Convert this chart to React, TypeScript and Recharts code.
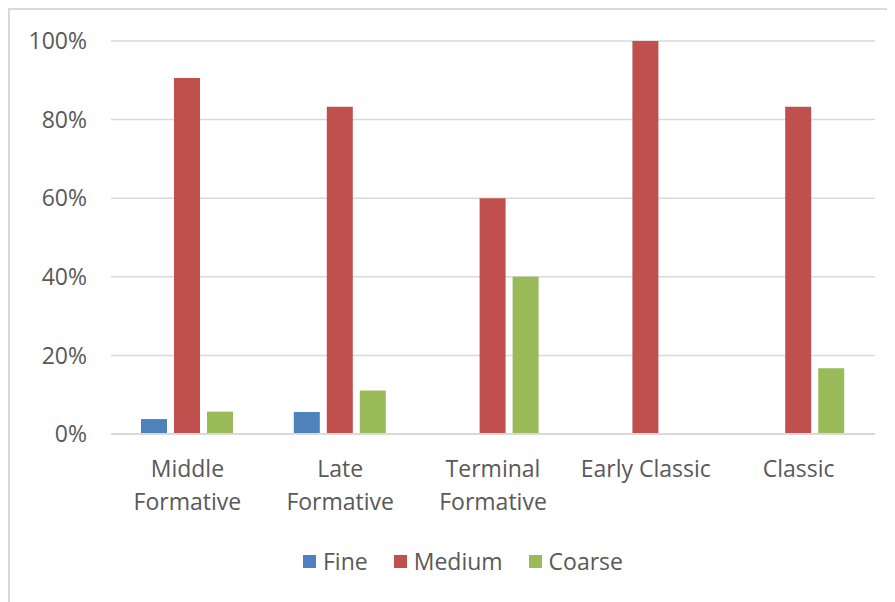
import React from "react";
import { BarChart, Bar, XAxis, YAxis, CartesianGrid, Legend } from "recharts";

const categories = ["Middle Formative", "Late Formative", "Terminal Formative", "Early Classic", "Classic"];
const tickLines = [["Middle", "Formative"], ["Late", "Formative"], ["Terminal", "Formative"], ["Early Classic"], ["Classic"]];
const fine = [3.8, 5.6, 0, 0, 0];
const medium = [90.6, 83.3, 60, 100, 83.3];
const coarse = [5.7, 11.1, 40, 0, 16.7];
const yTicks = [0, 20, 40, 60, 80, 100];

const seriesNames = ["Fine", "Medium", "Coarse"];
const colors = ["#4F81BD", "#C0504D", "#9BBB59"];

const data = categories.map((c, i) => ({ name: c, Fine: fine[i], Medium: medium[i], Coarse: coarse[i] }));

const FONT = "'Open Sans', sans-serif";
const TEXT_COLOR = "#595959";

const XTick = (props: any) => {
  const { x, y, payload } = props;
  const idx = categories.indexOf(payload.value);
  const lines = idx >= 0 ? tickLines[idx] : [String(payload.value)];
  return (
    <text x={x} y={y} textAnchor="middle" fill={TEXT_COLOR} fontSize={23} fontFamily={FONT}>
      {lines.map((l, i) => (
        <tspan key={i} x={x} dy={i === 0 ? 16 : 33}>
          {l}
        </tspan>
      ))}
    </text>
  );
};

const LegendContent = () => {
  return (
    <div style={{ height: 40, display: "flex", justifyContent: "center", alignItems: "center", fontFamily: FONT, fontSize: 23, color: TEXT_COLOR, paddingLeft: 20 }}>
      {seriesNames.map((s, i) => (
        <div key={s} style={{ display: "flex", alignItems: "center", marginRight: i < seriesNames.length - 1 ? 26 : 0 }}>
          <div style={{ width: 13, height: 13, background: colors[i], marginRight: 7 }} />
          <span>{s}</span>
        </div>
      ))}
    </div>
  );
};

export default function App() {
  return (
    <div style={{ width: 885, height: 592, borderLeft: "2px solid #d9d9d9", borderTop: "2px solid #d9d9d9", background: "#fff" }}>
      <BarChart
        width={885}
        height={592}
        data={data}
        margin={{ top: 31, right: 20, bottom: 21, left: 21 }}
        barCategoryGap={30}
        barGap={7}
      >
        <CartesianGrid vertical={false} stroke="#d9d9d9" strokeWidth={1.5} />
        <XAxis
          dataKey="name"
          axisLine={{ stroke: "#d9d9d9", strokeWidth: 2 }}
          tickLine={false}
          tickSize={0}
          tickMargin={27}
          height={107}
          interval={0}
          tick={<XTick />}
        />
        <YAxis
          domain={[0, 100]}
          ticks={yTicks}
          tickFormatter={(v: number) => `${v}%`}
          axisLine={false}
          tickLine={false}
          tickSize={0}
          tickMargin={24}
          width={80}
          tick={{ fill: TEXT_COLOR, fontSize: 23, fontFamily: FONT }}
        />
        <Legend verticalAlign="bottom" content={<LegendContent />} />
        {seriesNames.map((s, i) => (
          <Bar key={s} dataKey={s} fill={colors[i]} isAnimationActive={false} />
        ))}
      </BarChart>
    </div>
  );
}
